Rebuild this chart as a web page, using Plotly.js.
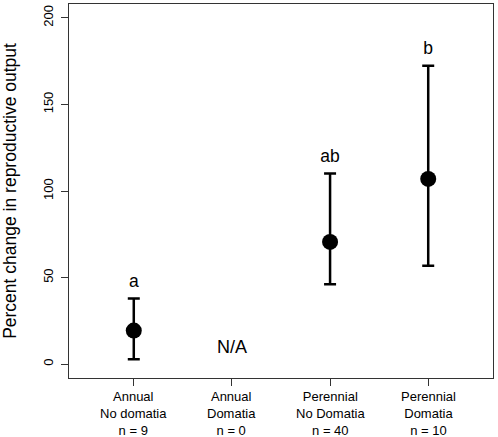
<!DOCTYPE html>
<html>
<head>
<meta charset="utf-8">
<script src="https://cdn.plot.ly/plotly-3.0.1.min.js"></script>
<style>html,body{margin:0;padding:0;background:#fff;}#chart{width:498px;height:437px;}</style>
</head>
<body>
<div id="chart"></div>
<script>
const categories = ["Annual<br>No domatia<br>n = 9", "Annual<br>Domatia<br>n = 0", "Perennial<br>No Domatia<br>n = 40", "Perennial<br>Domatia<br>n = 10"];
const xPos = [1, 2, 3, 4];
const means = [19.4, null, 70.6, 107.0];
const upper = [37.9, null, 110.1, 172.4];
const lower = [2.8, null, 46.1, 56.9];
const groupLetters = ["a", "", "ab", "b"];
const naLabel = "N/A";
const yTicks = [0, 50, 100, 150, 200];

const errPlus = means.map((m, i) => m === null ? null : upper[i] - m);
const errMinus = means.map((m, i) => m === null ? null : m - lower[i]);
const letterY = upper.map(u => u === null ? null : u + 9);

const font = "Liberation Sans, Arial, sans-serif";

const traces = [
  {
    x: xPos, y: means, type: "scatter", mode: "markers",
    marker: {color: "#000", size: 16},
    error_y: {type: "data", symmetric: false, array: errPlus, arrayminus: errMinus,
      color: "#000", thickness: 2.5, width: 6},
    hoverinfo: "skip", showlegend: false
  },
  {
    x: xPos, y: letterY, type: "scatter", mode: "text", text: groupLetters,
    textfont: {family: font, size: 17.5, color: "#000"}, textposition: "middle center",
    hoverinfo: "skip", showlegend: false
  },
  {
    x: [2], y: [9], type: "scatter", mode: "text", text: [naLabel],
    textfont: {family: font, size: 18, color: "#000"}, textposition: "middle center",
    hoverinfo: "skip", showlegend: false
  }
];

const catAnnotations = categories.map((c, i) => ({
  x: xPos[i], xref: "x", y: 0, yref: "paper", yanchor: "top", xanchor: "center",
  yshift: -9, text: c, showarrow: false, align: "center",
  font: {family: font, size: 13, color: "#000"}
}));

const layout = {
  width: 498, height: 437,
  margin: {l: 69, r: 5, t: 4, b: 59, pad: 0},
  paper_bgcolor: "#fff", plot_bgcolor: "#fff",
  font: {family: font, color: "#000"},
  annotations: catAnnotations,
  xaxis: {
    range: [0.34, 4.66], tickvals: xPos, showticklabels: false,
    ticks: "outside", ticklen: 7, tickwidth: 1, tickcolor: "#333",
    showline: true, linecolor: "#333", linewidth: 1, mirror: true,
    showgrid: false, zeroline: false
  },
  yaxis: {
    range: [-8, 208], tickvals: yTicks, ticktext: yTicks.map(String),
    ticks: "outside", ticklen: 7, tickwidth: 1, tickcolor: "#333",
    showline: true, linecolor: "#333", linewidth: 1, mirror: true,
    showgrid: false, zeroline: false, tickangle: -90, ticklabelstandoff: 3,
    tickfont: {family: font, size: 13, color: "#000"},
    title: {text: "Percent change in reproductive output", font: {family: font, size: 17.5, color: "#000"}, standoff: 20}
  }
};

Plotly.newPlot("chart", traces, layout, {displayModeBar: false, staticPlot: true});
</script>
</body>
</html>
